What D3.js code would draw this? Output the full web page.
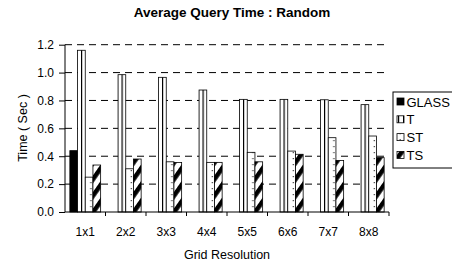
<!DOCTYPE html>
<html>
<head>
<meta charset="utf-8">
<script src="https://cdn.jsdelivr.net/npm/d3@7"></script>
<style>
  body { margin: 0; background: #fff; }
  svg { display: block; font-family: "Liberation Sans", Arial, sans-serif; }
</style>
</head>
<body>
<svg id="chart" width="452" height="264"></svg>
<script>
// chart data
var grids = ["1x1", "2x2", "3x3", "4x4", "5x5", "6x6", "7x7", "8x8"];
var seriesNames = ["GLASS", "T", "ST", "TS"];
var glassVals = [0.44, 0, 0, 0, 0, 0, 0, 0];
var tVals = [1.16, 0.985, 0.966, 0.875, 0.808, 0.808, 0.805, 0.77];
var stVals = [0.25, 0.31, 0.36, 0.356, 0.428, 0.437, 0.533, 0.545];
var tsVals = [0.337, 0.38, 0.355, 0.356, 0.36, 0.414, 0.37, 0.39];
var yTicks = [0, 0.2, 0.4, 0.6, 0.8, 1.0, 1.2];

var allVals = [glassVals, tVals, stVals, tsVals];

var svg = d3.select("#chart");
var plotLeft = 65, plotRight = 389, plotTop = 44.7, plotBottom = 212;

var x = d3.scaleBand().domain(grids).range([plotLeft, plotRight]);
var xi = d3.scaleBand().domain(seriesNames)
  .range([x.bandwidth() * 0.12, x.bandwidth() * 0.88]);
var y = d3.scaleLinear().domain([0, 1.2]).range([plotBottom, plotTop]);

// patterns for the fills
var defs = svg.append("defs");
var pT = defs.append("pattern").attr("id", "pat-T")
  .attr("patternUnits", "userSpaceOnUse").attr("width", 5).attr("height", 4);
pT.append("rect").attr("width", 5).attr("height", 4).attr("fill", "#fff");
pT.append("rect").attr("x", 1).attr("width", 1.2).attr("height", 4).attr("fill", "#000");

var pST = defs.append("pattern").attr("id", "pat-ST")
  .attr("patternUnits", "userSpaceOnUse").attr("width", 7.6).attr("height", 6);
pST.append("rect").attr("width", 7.6).attr("height", 6).attr("fill", "#fff");
pST.append("rect").attr("x", 2.5).attr("y", 2).attr("width", 1.2).attr("height", 1.2).attr("fill", "#333");

var pTS = defs.append("pattern").attr("id", "pat-TS")
  .attr("patternUnits", "userSpaceOnUse").attr("width", 9.5).attr("height", 9.5)
  .attr("patternTransform", "rotate(35)");
pTS.append("rect").attr("width", 9.5).attr("height", 9.5).attr("fill", "#fff");
pTS.append("rect").attr("width", 4.5).attr("height", 9.5).attr("fill", "#000");

var fills = { GLASS: "#000", T: "url(#pat-T)", ST: "url(#pat-ST)", TS: "url(#pat-TS)" };

// title
svg.append("text")
  .attr("x", 232).attr("y", 17)
  .attr("text-anchor", "middle")
  .style("font-size", "13.5px").style("font-weight", "bold")
  .text("Average Query Time : Random");

// gridlines
svg.append("g").selectAll("line")
  .data(yTicks.filter(function (d) { return d > 0; }))
  .enter().append("line")
  .attr("x1", plotLeft).attr("x2", plotRight)
  .attr("y1", function (d) { return y(d); })
  .attr("y2", function (d) { return y(d); })
  .attr("stroke", "#000").attr("stroke-width", 1)
  .attr("stroke-dasharray", "7,5");

// bars
var groups = svg.append("g").selectAll("g")
  .data(grids).enter().append("g")
  .attr("transform", function (d) { return "translate(" + x(d) + ",0)"; });

groups.selectAll("rect")
  .data(function (g, gi) {
    return seriesNames.map(function (s, si) { return { s: s, v: allVals[si][gi] }; })
      .filter(function (d) { return d.v > 0; });
  })
  .enter().append("rect")
  .attr("x", function (d) { return xi(d.s); })
  .attr("width", xi.bandwidth())
  .attr("y", function (d) { return y(d.v); })
  .attr("height", function (d) { return plotBottom - y(d.v); })
  .attr("fill", function (d) { return fills[d.s]; })
  .attr("stroke", "#000").attr("stroke-width", 0.8);

// y axis
var yAxis = d3.axisLeft(y).tickValues(yTicks).tickFormat(d3.format(".1f")).tickSize(6).tickPadding(5);
var yg = svg.append("g").attr("transform", "translate(" + plotLeft + ",0)").call(yAxis);
yg.select(".domain").attr("d", "M0," + plotTop + "V" + plotBottom);
yg.selectAll("text").style("font-size", "12px").style("font-family", "Liberation Sans, Arial");

// x axis
var xg = svg.append("g").attr("transform", "translate(0," + plotBottom + ")");
xg.append("line").attr("x1", plotLeft).attr("x2", plotRight).attr("stroke", "#000");
xg.selectAll("line.tk")
  .data(grids).enter().append("line").attr("class", "tk")
  .attr("x1", function (d) { return x(d) + x.bandwidth(); })
  .attr("x2", function (d) { return x(d) + x.bandwidth(); })
  .attr("y1", 0).attr("y2", 4).attr("stroke", "#000");
xg.selectAll("text")
  .data(grids).enter().append("text")
  .attr("x", function (d) { return x(d) + x.bandwidth() / 2; })
  .attr("y", 24)
  .attr("text-anchor", "middle")
  .style("font-size", "12px")
  .text(function (d) { return d; });

// axis titles
svg.append("text")
  .attr("x", 227).attr("y", 259)
  .attr("text-anchor", "middle")
  .style("font-size", "12.5px")
  .text("Grid Resolution");

svg.append("text")
  .attr("transform", "translate(27,128) rotate(-90)")
  .attr("text-anchor", "middle")
  .style("font-size", "12.5px")
  .text("Time ( Sec )");

// legend
var legend = svg.append("g").attr("transform", "translate(393,92)");
legend.append("rect")
  .attr("width", 64).attr("height", 76)
  .attr("fill", "#fff").attr("stroke", "#000").attr("stroke-width", 1);
var items = legend.selectAll("g.item")
  .data(seriesNames).enter().append("g").attr("class", "item")
  .attr("transform", function (d, i) { return "translate(4," + (9.5 + i * 17.8) + ")"; });
items.append("rect")
  .attr("x", 0).attr("y", -3.5).attr("width", 7).attr("height", 7)
  .attr("fill", function (d) { return fills[d]; })
  .attr("stroke", "#000").attr("stroke-width", 0.8);
items.append("text")
  .attr("x", 9.5).attr("y", 5)
  .style("font-size", "13px")
  .text(function (d) { return d; });
</script>
</body>
</html>
